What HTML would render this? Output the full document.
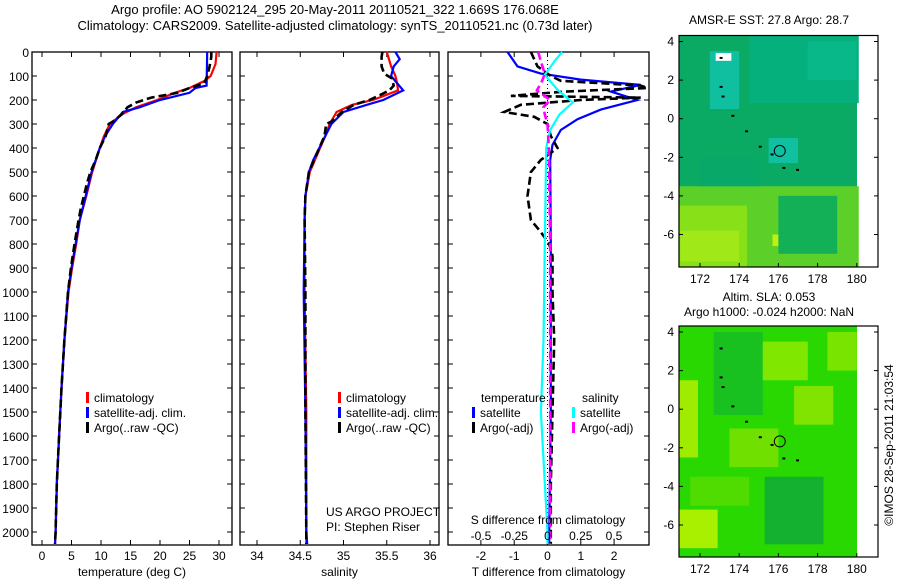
<!DOCTYPE html>
<html><head><meta charset="utf-8"><style>
body{margin:0;background:#fff;}
svg text{font-family:"Liberation Sans",sans-serif;font-size:12px;fill:#000;}
</style></head><body>
<svg id="chart" width="900" height="580" xmlns="http://www.w3.org/2000/svg">
<text x="335" y="14" text-anchor="middle" style="font-size:13px">Argo profile: AO 5902124_295 20-May-2011 20110521_322 1.669S 176.068E</text>
<text x="335" y="30" text-anchor="middle" style="font-size:13px">Climatology: CARS2009. Satellite-adjusted climatology: synTS_20110521.nc (0.73d later)</text>
<g id="maps"></g>
<g id="plots"></g>
</svg>
<script>
// ---------- data ----------
const depthTicks=[0,100,200,300,400,500,600,700,800,900,1000,1100,1200,1300,1400,1500,1600,1700,1800,1900,2000];
const tempTicks=[0,5,10,15,20,25,30];
const salTicks=[34,34.5,35,35.5,36];
const tdiffTicks=[-2,-1,0,1,2];
const sdiffTicks=[-0.5,-0.25,0,0.25,0.5];
const sdiffTickLabels=["-0.5","-0.25","0","0.25","0.5"];

const tClimD=[0,50,100,120,150,170,200,230,260,300,350,400,500,600,700,800,900,1000,1200,1400,1600,1800,2000,2050];
const tClimV=[29.6,29.4,28.6,27.6,25,22.5,19.5,16,13.5,11.5,10.5,9.8,8.5,7.5,6.4,5.8,5.1,4.5,3.8,3.3,2.9,2.5,2.3,2.2];
const tSatD=[0,140,150,170,200,230,250,300,350,400,500,600,700,800,900,1000,1200,1400,1600,1800,2000,2050];
const tSatV=[28,27.9,26,25,20,16.6,13.7,12,10.7,9.8,8.4,7.4,6.4,5.7,5.0,4.4,3.8,3.3,2.9,2.5,2.3,2.2];
const tArgoD=[0,20,60,100,130,150,170,190,210,230,260,290,300,350,400,450,500,550,600,650,700,800,900,1000,1200,1400,1600,1800,2000,2050];
const tArgoV=[28.7,28.7,28.4,28.0,27.5,25,23,18.5,16,14.5,13.5,12,11.3,10.8,9.8,9.1,8.2,7.6,7.1,6.6,6.2,5.5,4.9,4.4,3.8,3.3,2.9,2.5,2.3,2.2];

const sClimD=[0,60,100,130,160,200,220,250,300,350,400,500,600,700,1000,1500,2000,2050];
const sClimV=[35.5,35.55,35.6,35.62,35.63,35.34,35.1,34.92,34.84,34.79,34.73,34.61,34.56,34.55,34.55,34.57,34.57,34.57];
const sSatD=[0,30,60,100,130,160,200,220,250,300,350,400,450,500,600,700,1000,1500,2000,2050];
const sSatV=[35.6,35.65,35.58,35.55,35.62,35.69,35.46,35.27,35.0,34.86,34.79,34.72,34.65,34.6,34.56,34.55,34.54,34.56,34.57,34.58];
const sArgoD=[0,20,60,90,110,140,160,180,200,220,250,290,300,350,400,450,500,600,700,1000,1500,2000,2050];
const sArgoV=[35.45,35.44,35.44,35.47,35.56,35.58,35.53,35.42,35.3,35.12,34.98,34.86,34.8,34.78,34.72,34.66,34.6,34.56,34.55,34.56,34.56,34.57,34.57];

const dTsatD=[0,60,90,115,137,165,200,240,280,325,387,450,800,1200,1500,2000,2050];
const dTsatV=[-1.2,-0.9,-0.2,1.0,2.8,1.9,2.7,1.6,0.9,0.4,0.15,0.08,0.1,0.1,0.1,0.05,0.05];
const dTargoD=[0,60,100,120,140,150,165,183,190,200,220,250,270,300,350,400,450,500,600,700,750,800,850,1000,1200,1500,1800,2050];
const dTargoV=[-0.5,-0.3,0.1,0.4,2.8,3.0,0.5,-1.1,2.8,1.0,-0.8,-1.3,-0.4,0,0.1,0.3,-0.2,-0.5,-0.6,-0.5,-0.2,0.05,0.15,0.15,0.2,0.15,0.1,0.1];
const dSsatD=[0,33,95,160,210,260,325,400,800,1200,1500,2000,2050];
const dSsatV=[0.11,0.06,-0.02,0.08,0.19,0.09,0.02,-0.01,-0.02,-0.03,-0.05,0,0];
const dSargoD=[0,40,90,120,160,200,230,260,300,400,800,1200,1500,2000,2050];
const dSargoV=[-0.07,-0.05,-0.02,-0.04,-0.08,0.02,-0.03,-0.02,0.0,0.01,0.02,0.02,0.02,0.02,0.02];

const lonTicks=[172,174,176,178,180];
const latTicks=[4,2,0,-2,-4,-6];

// ---------- helpers ----------
const NS="http://www.w3.org/2000/svg";
const plots=document.getElementById('plots');
function mk(tag,attrs,parent,txt){const e=document.createElementNS(NS,tag);for(const k in attrs)e.setAttribute(k,attrs[k]);if(txt!==undefined)e.textContent=txt;(parent||plots).appendChild(e);return e;}
const TOP=52,BOT=545;
function yD(d){return TOP+0.24*d;}

function panel(x0,x1,xs,ticks,labels,title,name){
  const g=mk('g',{});
  
  
  const r=mk('rect',{x:x0,y:TOP,width:x1-x0,height:BOT-TOP,fill:'#fff',stroke:'#000','stroke-width':1.3},g);
  
  
  depthTicks.forEach(d=>{mk('line',{x1:x0,x2:x0+5,y1:yD(d),y2:yD(d),stroke:'#000'},g);mk('line',{x1:x1,x2:x1-5,y1:yD(d),y2:yD(d),stroke:'#000'},g);});
  if(ticks){ticks.forEach((t,i)=>{const x=xs(t);mk('line',{x1:x,x2:x,y1:BOT,y2:BOT-5,stroke:'#000'},g);mk('line',{x1:x,x2:x,y1:TOP,y2:TOP+5,stroke:'#000'},g);
    const tl=mk('text',{x:x,y:560,'text-anchor':'middle'},g,labels[i]);
    
    });}
  const tt=mk('text',{x:(x0+x1)/2,y:576,'text-anchor':'middle'},g,title);
  
  
  return g;
}
function line(g,D,V,xs,color,dash,name,w){
  const pts=D.map((d,i)=>xs(V[i]).toFixed(1)+','+yD(d).toFixed(1)).join(' ');
  const p=mk('polyline',{points:pts,fill:'none',stroke:color,'stroke-width':w||2.2,'stroke-dasharray':dash||'none'},g);
  
  
}
function legend(g,x,y,items){
  items.forEach((it,i)=>{
    const b=mk('rect',{x:x,y:y+i*15-10,width:3,height:11,fill:it[1]},g);
    
    
    const t=mk('text',{x:x+8,y:y+i*15},g,it[0]);
    
    
  });
}

depthTicks.forEach(d=>{const t=mk('text',{x:29,y:yD(d)+5,'text-anchor':'end'},plots,String(d));
  
  });

const xT=t=>42+5.9*t;
const g1=panel(32,232,xT,tempTicks,tempTicks.map(String),'temperature (deg C)','temperature-panel');
line(g1,tClimD,tClimV,xT,'#f00',null,'temp-climatology-line');
line(g1,tSatD,tSatV,xT,'#00f',null,'temp-satellite-line');
line(g1,tArgoD,tArgoV,xT,'#000','8,4','temp-argo-line',2.6);
legend(g1,86,402,[['climatology','#f00'],['satellite-adj. clim.','#00f'],['Argo(..raw -QC)','#000']]);

const xS=s=>257+86.5*(s-34);
const g2=panel(240,439,xS,salTicks,salTicks.map(String),'salinity','salinity-panel');
line(g2,sClimD,sClimV,xS,'#f00',null,'sal-climatology-line');
line(g2,sSatD,sSatV,xS,'#00f',null,'sal-satellite-line');
line(g2,sArgoD,sArgoV,xS,'#000','8,4','sal-argo-line',2.6);
legend(g2,338,402,[['climatology','#f00'],['satellite-adj. clim.','#00f'],['Argo(..raw -QC)','#000']]);
const u1=mk('text',{x:326,y:516},g2,'US ARGO PROJECT');


const u2=mk('text',{x:326,y:531},g2,'PI: Stephen Riser');



const xdT=v=>547.5+33.3*v;
const xdS=v=>547.5+133*v;
const g3=panel(448,649,xdT,tdiffTicks,tdiffTicks.map(String),'T difference from climatology','difference-panel');
mk('line',{x1:547.5,x2:547.5,y1:TOP,y2:BOT,stroke:'#000','stroke-dasharray':'1,3'},g3);
line(g3,dTsatD,dTsatV,xdT,'#00f',null,'tdiff-satellite-line');
line(g3,dTargoD,dTargoV,xdT,'#000','8,4','tdiff-argo-line',2.6);
line(g3,dSsatD,dSsatV,xdS,'#0ff',null,'sdiff-satellite-line');
line(g3,dSargoD,dSargoV,xdS,'#f0f','8,4','sdiff-argo-line',2.6);
sdiffTicks.forEach((v,i)=>{const t=mk('text',{x:xdS(v),y:540,'text-anchor':'middle'},g3,sdiffTickLabels[i]);
  
  });
const st=mk('text',{x:548,y:524,'text-anchor':'middle'},g3,'S difference from climatology');


const lt1=mk('text',{x:481,y:402},g3,'temperature');


const lt2=mk('text',{x:582,y:402},g3,'salinity');


legend(g3,472,417,[['satellite','#00f'],['Argo(-adj)','#000']]);
legend(g3,572,417,[['satellite','#0ff'],['Argo(-adj)','#f0f']]);

const maps=document.getElementById('maps');
function map(top,bot,lat4y,name,base,patches,titles){
  const g=mk('g',{},maps);
  
  
  const L=679,R=878;
  const lonX=l=>700+(l-172)*19.6;
  const latY=a=>lat4y+(4-a)*19.3;
  const bg=mk('rect',{x:L,y:top,width:857-L,height:bot-top,fill:base},g);
  
  
  patches.forEach(p=>{const r=mk('rect',{x:lonX(p[0]),y:latY(p[1]),width:p[2]*19.6,height:p[3]*19.3,fill:p[4]},g);
    
    });
  mk('rect',{x:L,y:top,width:R-L,height:bot-top,fill:'none',stroke:'#000','stroke-width':1.2},g);
  lonTicks.forEach(l=>{mk('line',{x1:lonX(l),x2:lonX(l),y1:bot,y2:bot-4,stroke:'#000'},g);
    const t=mk('text',{x:lonX(l),y:bot+16,'text-anchor':'middle'},g,String(l));
    
    });
  latTicks.forEach(a=>{mk('line',{x1:L,x2:L+4,y1:latY(a),y2:latY(a),stroke:'#000'},g);mk('line',{x1:R,x2:R-4,y1:latY(a),y2:latY(a),stroke:'#000'},g);
    const t=mk('text',{x:674,y:latY(a)+4,'text-anchor':'end'},g,String(a));
    
    });
  const c=mk('circle',{cx:lonX(176.07),cy:latY(-1.67),r:5.5,fill:'none',stroke:'#000'},g);
  
  
  [[173,3.2],[173,1.7],[173.1,1.2],[173.6,0.2],[174.3,-0.6],[175,-1.4],[175.6,-1.8],[176.2,-2.5],[176.9,-2.6]].forEach(p=>{
    mk('rect',{x:lonX(p[0]),y:latY(p[1]),width:3,height:2,fill:'#000'},g);});
  titles.forEach(t=>{const e=mk('text',{x:t[1],y:t[2],'text-anchor':'middle'},g,t[0]);
    
    });
}
map(35.5,267,41.5,'sst-map','#0aaa64',[
  [170.9,-3.5,9.2,4.2,'#5cd028'],[170.9,-4.5,3.5,3.2,'#88e018'],[171,-5.8,3,1.6,'#a0e818'],
  [174.5,4.3,5.6,3.5,'#06b07c'],[177.5,4,2.5,2,'#08b888'],[172.5,3.5,1.5,3,'#10bfa0'],
  [172.8,3.4,0.8,0.4,'#ffffff'],[175.5,-1,1.5,1.3,'#10c0a0'],[175.7,-6,1.4,0.6,'#c0f010'],
  [177.6,-6.1,0.8,0.6,'#1040c0'],[172,-2,3,1.5,'#08a868'],[176,-4,3,3,'#14b058']],
  [['AMSR-E SST: 27.8  Argo: 28.7',769,24]]);
map(326,557,332,'sla-map','#28d800',[
  [170.9,1.5,1,4,'#a0ec00'],[170.9,-5.2,2,2,'#a8f000'],[174.5,3.5,3,2,'#80e800'],
  [176.8,1.2,2,2,'#80e400'],[172.7,4,2.5,4.3,'#18c020'],[175.3,-3.5,3,3.5,'#14b030'],
  [173.5,-1,2.5,2,'#70e000'],[178.5,4,1.5,2,'#78e400'],[171.5,-3.5,3,1.5,'#50dc00']],
  [['Altim. SLA: 0.053',769,301],['Argo h1000: -0.024 h2000: NaN',769,316]]);
const cp=mk('text',{x:0,y:0,transform:'translate(893,445) rotate(-90)','text-anchor':'middle'},maps,'©IMOS 28-Sep-2011 21:03:54');


</script>
</body></html>
